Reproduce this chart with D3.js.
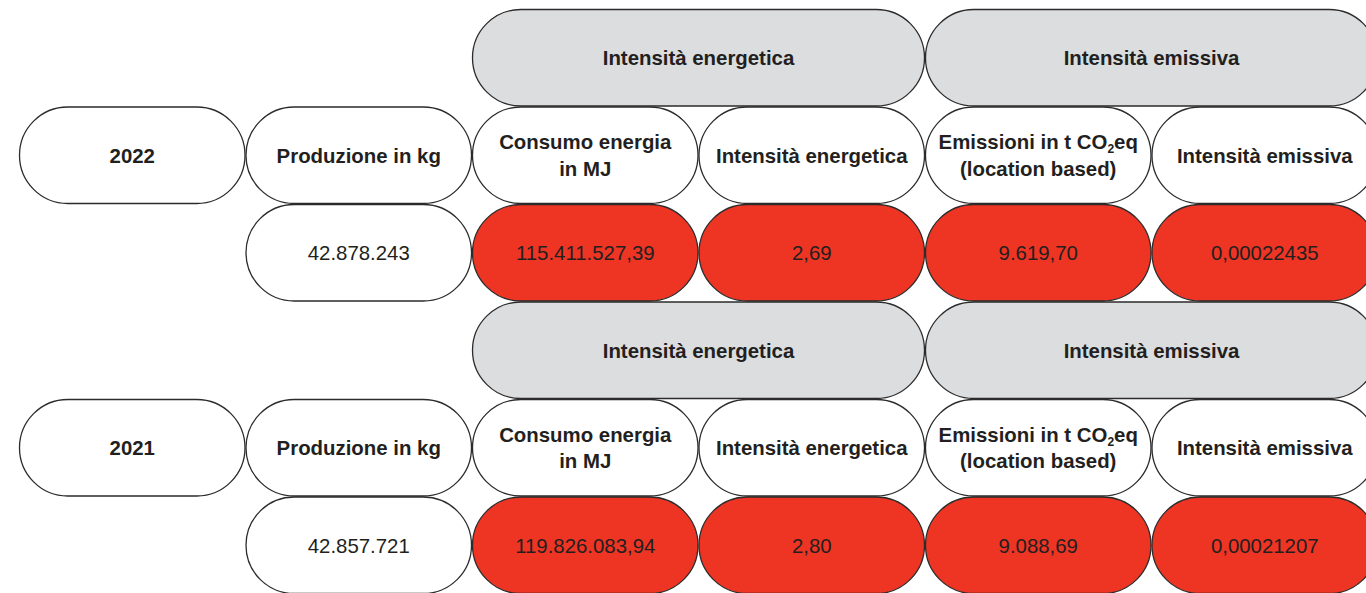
<!DOCTYPE html>
<html>
<head>
<meta charset="utf-8">
<script src="https://cdn.jsdelivr.net/npm/d3@7"></script>
<style>
  html, body { margin: 0; padding: 0; background: #ffffff; }
  svg { display: block; }
</style>
</head>
<body>
<svg id="chart" width="1366" height="593"></svg>
<script>
// ---- Data ----
const years = ["2022", "2021"];
const groupHeaders = ["Intensità energetica", "Intensità emissiva"];
const columnLabels = [
  ["Produzione in kg"],
  ["Consumo energia", "in MJ"],
  ["Intensità energetica"],
  ["Emissioni in t CO2eq", "(location based)"],
  ["Intensità emissiva"]
];
const produzione = ["42.878.243", "42.857.721"];
const consumoEnergia = ["115.411.527,39", "119.826.083,94"];
const intensitaEnergetica = ["2,69", "2,80"];
const emissioni = ["9.619,70", "9.088,69"];
const intensitaEmissiva = ["0,00022435", "0,00021207"];

// ---- Layout ----
const svg = d3.select("#chart");
const x = d3.scaleLinear().domain([0, 6]).range([19, 19 + 6 * 226.5]);
const y = d3.scaleLinear().domain([0, 6]).range([9, 9 + 6 * 97.5]);

const RED = "#EE3524", GRAY = "#DCDDDF", WHITE = "#FFFFFF";
const STROKE = "#2B2B2B", TEXT = "#231F20";
const FONT = "'Liberation Sans', Arial, Helvetica, sans-serif";

function pill(c0, c1, r, fill) {
  const x0 = x(c0) + 0.5, x1 = x(c1) - 0.5;
  const y0 = y(r) + 0.5, y1 = y(r + 1) - 0.5;
  const h = y1 - y0;
  svg.append("rect")
    .attr("x", x0).attr("y", y0)
    .attr("width", x1 - x0).attr("height", h)
    .attr("rx", h / 2).attr("ry", h / 2)
    .attr("fill", fill)
    .attr("stroke", STROKE).attr("stroke-width", 1.3);
}

function label(c0, c1, r, lines, bold) {
  const cx = (x(c0) + x(c1)) / 2;
  const cy = (y(r) + y(r + 1)) / 2;
  const lh = 26.5;
  const t = svg.append("text")
    .attr("x", cx)
    .attr("text-anchor", "middle")
    .attr("font-family", FONT)
    .attr("font-size", 20.4)
    .attr("font-weight", bold ? "bold" : "normal")
    .attr("fill", TEXT);
  lines.forEach((ln, i) => {
    const yy = cy + (i - (lines.length - 1) / 2) * lh + 7.4;
    const tl = t.append("tspan").attr("x", cx).attr("y", yy);
    if (ln.indexOf("CO2") >= 0) {
      const parts = ln.split("CO2");
      tl.append("tspan").text(parts[0] + "CO");
      tl.append("tspan").attr("font-size", 12).attr("dy", 4).text("2");
      tl.append("tspan").attr("dy", -4).text(parts[1]);
    } else {
      tl.text(ln);
    }
  });
}

years.forEach((yr, s) => {
  const base = s * 3;
  const vals = [produzione[s], consumoEnergia[s], intensitaEnergetica[s], emissioni[s], intensitaEmissiva[s]];

  // group header row
  pill(2, 4, base, GRAY);
  pill(4, 6, base, GRAY);
  label(2, 4, base, [groupHeaders[0]], true);
  label(4, 6, base, [groupHeaders[1]], true);

  // label row
  pill(0, 1, base + 1, WHITE);
  label(0, 1, base + 1, [yr], true);
  columnLabels.forEach((lb, i) => {
    pill(i + 1, i + 2, base + 1, WHITE);
    label(i + 1, i + 2, base + 1, lb, true);
  });

  // value row
  vals.forEach((v, i) => {
    pill(i + 1, i + 2, base + 2, i === 0 ? WHITE : RED);
    label(i + 1, i + 2, base + 2, [v], false);
  });
});
</script>
</body>
</html>
